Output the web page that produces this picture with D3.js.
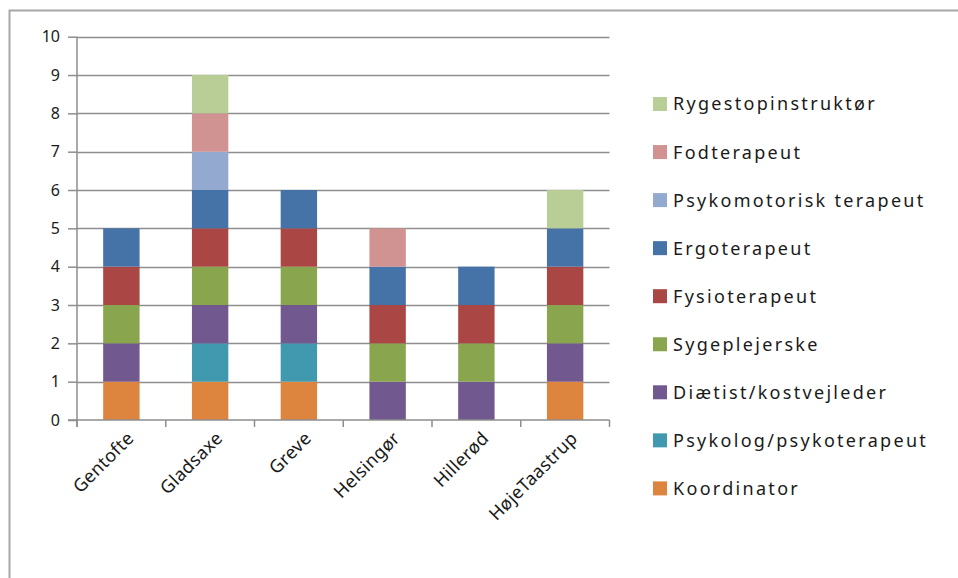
<!DOCTYPE html>
<html>
<head>
<meta charset="utf-8">
<script src="https://cdn.jsdelivr.net/npm/d3@7"></script>
<style>
  html, body { margin: 0; padding: 0; background: #fff; }
  svg { display: block; }
  text { font-family: "Noto Sans", "DejaVu Sans", sans-serif; fill: #1a1a1a; }
</style>
</head>
<body>
<svg id="chart" width="958" height="578"></svg>
<script>
// Municipalities along the x axis
const categories = ["Gentofte", "Gladsaxe", "Greve", "Helsingør", "Hillerød", "HøjeTaastrup"];

// Professional groups, stacked bottom to top
const seriesNames = [
  "Koordinator",
  "Psykolog/psykoterapeut",
  "Diætist/kostvejleder",
  "Sygeplejerske",
  "Fysioterapeut",
  "Ergoterapeut",
  "Psykomotorisk terapeut",
  "Fodterapeut",
  "Rygestopinstruktør"
];

// Counts per municipality for each group (same order as categories)
const koordinator   = [1, 1, 1, 0, 0, 1];
const psykolog      = [0, 1, 1, 0, 0, 0];
const diaetist      = [1, 1, 1, 1, 1, 1];
const sygeplejerske = [1, 1, 1, 1, 1, 1];
const fysioterapeut = [1, 1, 1, 1, 1, 1];
const ergoterapeut  = [1, 1, 1, 1, 1, 1];
const psykomotorisk = [0, 1, 0, 0, 0, 0];
const fodterapeut   = [0, 1, 0, 1, 0, 0];
const rygestop      = [0, 1, 0, 0, 0, 1];

const yTicks = [0, 1, 2, 3, 4, 5, 6, 7, 8, 9, 10];

const seriesValues = [koordinator, psykolog, diaetist, sygeplejerske, fysioterapeut,
                      ergoterapeut, psykomotorisk, fodterapeut, rygestop];

const colors = ["#DD843F", "#4199AF", "#71588F", "#89A54E", "#AA4643",
                "#4572A7", "#93A9CF", "#D19392", "#B9CD96"];

// Build rows for d3.stack
const rows = categories.map((c, i) => {
  const r = { category: c };
  seriesNames.forEach((s, j) => { r[s] = seriesValues[j][i]; });
  return r;
});
const stacked = d3.stack().keys(seriesNames)(rows);

const svg = d3.select("#chart");

// Outer chart frame (runs past the right and bottom edges)
svg.append("rect")
  .attr("x", 9.5).attr("y", 10.5)
  .attr("width", 1000).attr("height", 700)
  .attr("fill", "none").attr("stroke", "#a8a8a8").attr("stroke-width", 2);

const plot = { left: 77, right: 609.5, top: 36.7, bottom: 420 };

const x = d3.scaleBand().domain(categories).range([plot.left, plot.right])
  .paddingInner(0.59).paddingOuter(0.295);
const xOuter = d3.scaleBand().domain(categories).range([plot.left, plot.right]);
const y = d3.scaleLinear().domain([0, 10]).range([plot.bottom, plot.top]);

const gridColor = "#8e8e8e";

// Horizontal gridlines
svg.append("g").selectAll("line").data(yTicks.filter(d => d > 0)).join("line")
  .attr("x1", plot.left).attr("x2", plot.right)
  .attr("y1", d => Math.round(y(d)) + 0.5).attr("y2", d => Math.round(y(d)) + 0.5)
  .attr("stroke", gridColor).attr("stroke-width", 1.5);

// Stacked bars
svg.append("g").selectAll("g").data(stacked).join("g")
  .attr("fill", (d, i) => colors[i])
  .selectAll("rect").data(d => d.filter(p => p[1] > p[0])).join("rect")
  .attr("x", d => x(d.data.category))
  .attr("width", x.bandwidth())
  .attr("y", d => y(d[1]))
  .attr("height", d => y(d[0]) - y(d[1]));

// Y axis
const yAxis = svg.append("g")
  .attr("transform", `translate(${plot.left},0)`)
  .call(d3.axisLeft(y).tickValues(yTicks).tickSize(9).tickPadding(8).tickFormat(d3.format("d")));
yAxis.selectAll("line, path").attr("stroke", gridColor).attr("stroke-width", 1.5);
yAxis.select(".domain").attr("d", `M0,${plot.top}V${plot.bottom + 7}`);
yAxis.selectAll("text").style("font-size", "16px").attr("fill", "#1a1a1a");

// X axis with boundary ticks between categories
const xAxisG = svg.append("g").attr("transform", `translate(0,${plot.bottom})`);
xAxisG.append("line")
  .attr("x1", plot.left - 9).attr("x2", plot.right)
  .attr("stroke", gridColor).attr("stroke-width", 1.5);
const boundaries = categories.map(c => xOuter(c)).concat([plot.right]);
xAxisG.selectAll("line.tick").data(boundaries).join("line")
  .attr("class", "tick")
  .attr("x1", d => d).attr("x2", d => d)
  .attr("y1", 0).attr("y2", 7)
  .attr("stroke", gridColor).attr("stroke-width", 1.5);

// Rotated category labels
xAxisG.selectAll("text").data(categories).join("text")
  .attr("transform", d => `translate(${x(d) + x.bandwidth() / 2 + 9},${15}) rotate(-45)`)
  .attr("text-anchor", "end")
  .attr("dy", "0.35em")
  .style("font-size", "18px")
  .style("letter-spacing", "0.3px")
  .text(d => d);

// Legend, top entry is the last stacked series
const legendOrder = seriesNames.map((s, i) => ({ name: s, color: colors[i] })).reverse();
const legend = svg.append("g").attr("transform", "translate(653,0)");
const lg = legend.selectAll("g").data(legendOrder).join("g")
  .attr("transform", (d, i) => `translate(0,${104 + i * 48.05})`);
lg.append("rect")
  .attr("x", 0).attr("y", -7).attr("width", 14).attr("height", 14)
  .attr("fill", d => d.color);
lg.append("text")
  .attr("x", 20).attr("dy", "0.36em")
  .style("font-size", "18px")
  .style("letter-spacing", "2.3px")
  .text(d => d.name);
</script>
</body>
</html>
